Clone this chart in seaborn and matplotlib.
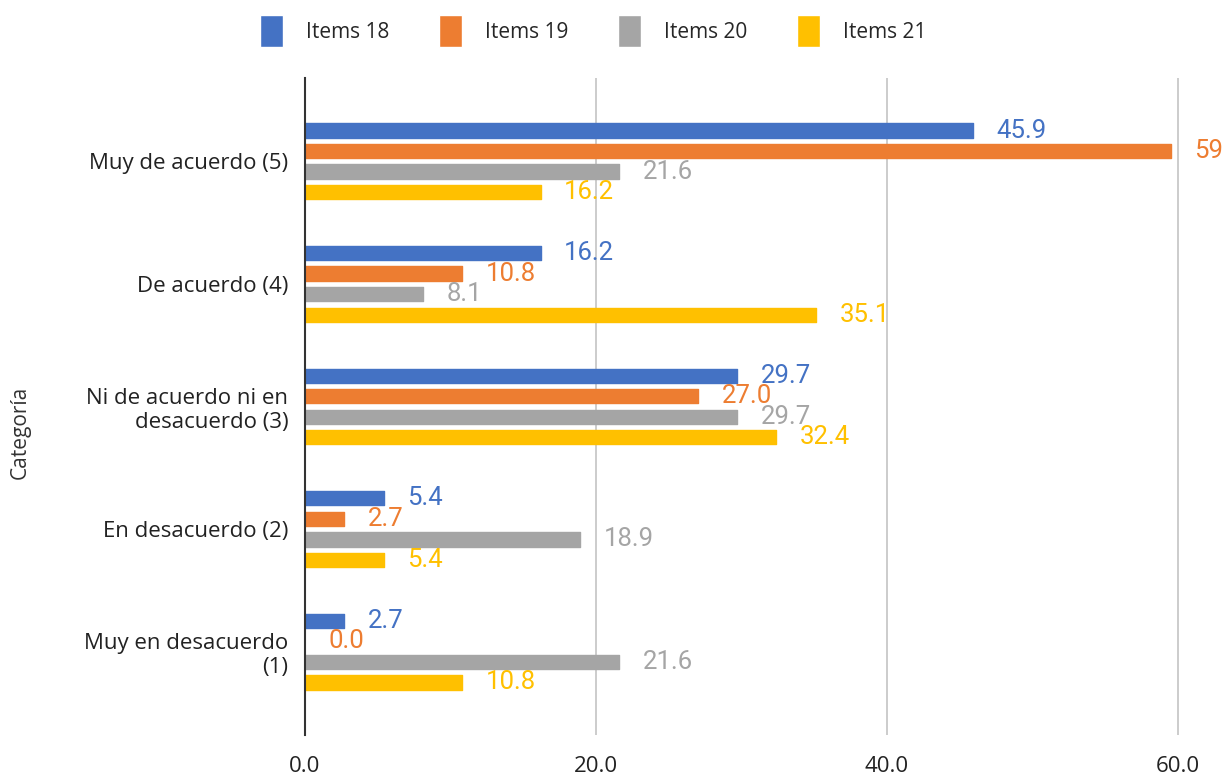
import pandas as pd
import numpy as np
import seaborn as sns
import matplotlib.pyplot as plt
from matplotlib.patches import Patch

categorias = ['Muy de acuerdo (5)', 'De acuerdo (4)',
              'Ni de acuerdo ni en\ndesacuerdo (3)', 'En desacuerdo (2)',
              'Muy en desacuerdo\n(1)']
series = ['Items 18', 'Items 19', 'Items 20', 'Items 21']
items_18 = [45.9, 16.2, 29.7, 5.4, 2.7]
items_19 = [59.5, 10.8, 27.0, 2.7, 0.0]
items_20 = [21.6, 8.1, 29.7, 18.9, 21.6]
items_21 = [16.2, 35.1, 32.4, 5.4, 10.8]
xticks = [0, 20, 40, 60]
colores = ['#4472C4', '#ED7D31', '#A5A5A5', '#FFC000']

df = pd.DataFrame({
    'categoria': categorias * 4,
    'serie': np.repeat(series, len(categorias)),
    'valor': items_18 + items_19 + items_20 + items_21,
})

sns.set_style('white')
plt.rcParams['font.family'] = ['Open Sans', 'DejaVu Sans']

fig = plt.figure(figsize=(12.23, 7.81), dpi=100)
ax = fig.add_axes([305 / 1223, 46 / 781, 918 / 1223, 657 / 781])

sns.barplot(data=df, y='categoria', x='valor', hue='serie', orient='h',
            palette=colores, saturation=1, width=0.67, gap=0.3, ax=ax,
            legend=False)

# bordes redondeados aproximados
for cont, c in zip(ax.containers, colores):
    for b in cont:
        b.set_edgecolor(c)
        b.set_linewidth(1.0 if b.get_width() > 0 else 0)
        b.set_joinstyle('round')
    ax.bar_label(cont, fmt='%.1f', padding=17, color=c, fontsize=18.5,
                 family='Roboto', clip_on=False)

ax.set_xlim(0, 63.1)
ax.set_ylim(4.68, -0.68)
ax.set_xticks(xticks)
ax.set_xticklabels(['%.1f' % t for t in xticks], fontsize=16, color='#222222')
ax.tick_params(axis='x', pad=15, length=0)
ax.tick_params(axis='y', labelsize=16, length=0, pad=12, colors='#222222')
ax.xaxis.grid(True, color='#c8c8c8', linewidth=1.3)
ax.set_axisbelow(True)
for s in ['top', 'right', 'bottom']:
    ax.spines[s].set_visible(False)
ax.spines['left'].set_color('#333333')
ax.spines['left'].set_linewidth(1.5)
ax.set_xlabel('')
ax.set_ylabel('Categoría', fontsize=15, color='#333333')
ax.yaxis.label.set_verticalalignment('center')
ax.yaxis.set_label_coords(-0.31, 0.46)

handles = [Patch(facecolor=c, label=s) for s, c in zip(series, colores)]
fig.legend(handles=handles, loc='center', bbox_to_anchor=(0.485, 0.96),
           ncol=4, frameon=False, fontsize=15, handlelength=1.1,
           handleheight=2.0, columnspacing=2.4, handletextpad=1.1)

fig.savefig('out.png', dpi=100)
